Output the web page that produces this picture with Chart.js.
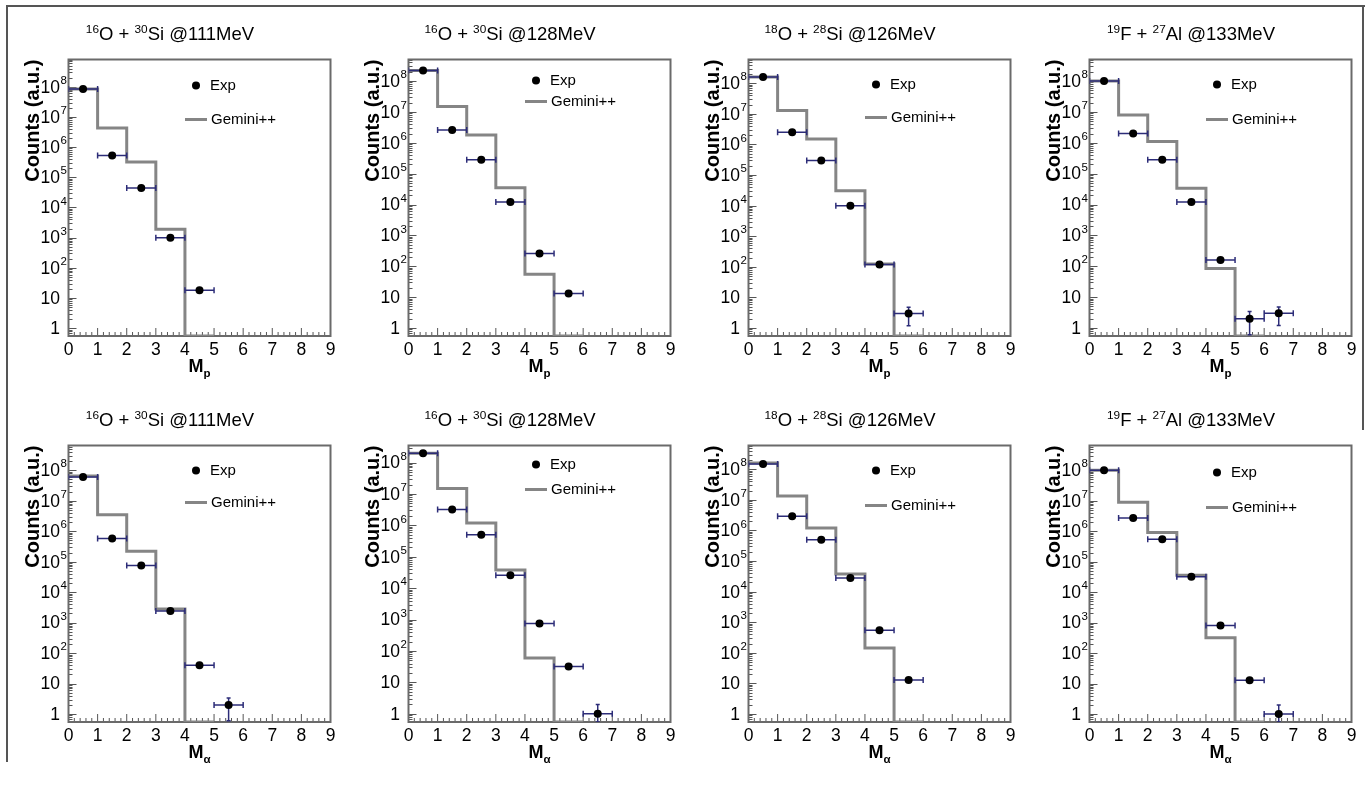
<!DOCTYPE html>
<html lang="en">
<head>
<meta charset="UTF-8">
<title>Mp and Malpha distributions</title>
<script src="https://cdn.jsdelivr.net/npm/chart.js"></script>
<style>
  body { margin: 0; background: #fff; width: 1369px; height: 787px; overflow: hidden; position: relative; }
  .pad { position: absolute; }
  #frameTL { position: absolute; left: 6px; top: 5px; width: 1357px; height: 755px; border-top: 2px solid #555; border-left: 2px solid #555; }
  #frameR { position: absolute; left: 1362px; top: 5px; width: 0; height: 425px; border-right: 2px solid #555; }
</style>
</head>
<body>
<div id="frameTL"></div>
<div id="frameR"></div>
<script>
// reactions (one per column)
const beamSup = ['16', '16', '18', '19'];
const beamEl = ['O', 'O', 'O', 'F'];
const targetSup = ['30', '30', '28', '27'];
const targetEl = ['Si', 'Si', 'Si', 'Al'];
const beamEnergy = ['111MeV', '128MeV', '126MeV', '133MeV'];
// rows: proton multiplicity, alpha multiplicity
const multSub = ['p', 'α'];

// axis ticks
const xTicks = [0, 1, 2, 3, 4, 5, 6, 7, 8, 9];
const yTicks = [1, 10, 1e2, 1e3, 1e4, 1e5, 1e6, 1e7, 1e8];
const yTickBase = ['1', '10', '10', '10', '10', '10', '10', '10', '10'];
const yTickExp = ['', '', '2', '3', '4', '5', '6', '7', '8'];
const yMin = 0.55;
const yMax = [8e8, 5e8, 6e8, 5e8, 6.5e8, 3.5e8, 6e8, 6.5e8];

// bin centres of the experimental points
const binCenters = [0.5, 1.5, 2.5, 3.5, 4.5, 5.5, 6.5];

// Mp, experiment
const expMp = [
  [8.5e7, 5.3e5, 4.4e4, 1.0e3, 18],
  [2.2e8, 2.6e6, 2.8e5, 1.2e4, 2.6e2, 13],
  [1.6e8, 2.5e6, 3.0e5, 1.0e4, 1.2e2, 3],
  [1.0e8, 2.0e6, 2.8e5, 1.2e4, 1.6e2, 2, 3]
];
const expMpErr = [
  [0, 0, 0, 0, 0],
  [0, 0, 0, 0, 0, 0],
  [0, 0, 0, 0, 0, 1.8],
  [0, 0, 0, 0, 0, 1.4, 1.8]
];
// Mp, Gemini++
const gemMp = [
  [8.5e7, 4.3e6, 3.2e5, 1.9e3, 0],
  [2.2e8, 1.5e7, 1.8e6, 3.5e4, 55, 0],
  [1.6e8, 1.3e7, 1.5e6, 3.1e4, 1.25e2, 0],
  [1.0e8, 8.0e6, 1.1e6, 3.4e4, 85, 0]
];

// Malpha, experiment
const expMa = [
  [6.0e7, 5.8e5, 7.5e4, 2.4e3, 40, 2],
  [2.0e8, 3.2e6, 5.0e5, 2.6e4, 7.5e2, 32, 1],
  [1.5e8, 2.9e6, 5.0e5, 2.8e4, 5.5e2, 13],
  [1.0e8, 2.7e6, 5.5e5, 3.2e4, 8.0e2, 13, 1]
];
const expMaErr = [
  [0, 0, 0, 0, 0, 1.4],
  [0, 0, 0, 0, 0, 0, 1],
  [0, 0, 0, 0, 0, 0],
  [0, 0, 0, 0, 0, 0, 1]
];
// Malpha, Gemini++
const gemMa = [
  [6.5e7, 3.5e6, 2.2e5, 2.8e3, 0],
  [2.0e8, 1.5e7, 1.2e6, 3.8e4, 60, 0],
  [1.6e8, 1.35e7, 1.2e6, 3.8e4, 1.45e2, 0],
  [1.0e8, 9.0e6, 9.0e5, 3.6e4, 3.2e2, 0]
];

// legend placement per pad (offset from plot top-left, px)
const legendPos = [
  { exp: 26, gem: 60 }, { exp: 21, gem: 42 }, { exp: 25, gem: 58 }, { exp: 25, gem: 60 },
  { exp: 25, gem: 57 }, { exp: 19, gem: 44 }, { exp: 25, gem: 60 }, { exp: 27, gem: 62 }
];

const FONT = '"Liberation Sans", Arial, Helvetica, sans-serif';
const GREY = '#858585';
const ERRCOL = '#2c2c78';

// draws a list of [text, mode] pieces, mode: 'n' normal, 'sup', 'sub'
function richText(ctx, parts, x, y, size, bold, align) {
  const w = p => {
    const s = p[1] === 'n' ? size : size * 0.64;
    ctx.font = (bold ? 'bold ' : '') + s + 'px ' + FONT;
    return ctx.measureText(p[0]).width;
  };
  const total = parts.reduce((t, p) => t + w(p), 0);
  let cx = align === 'center' ? x - total / 2 : x;
  ctx.textAlign = 'left';
  ctx.textBaseline = 'alphabetic';
  parts.forEach(p => {
    const dw = w(p);
    let dy = 0;
    if (p[1] === 'sup') dy = -size * 0.38;
    if (p[1] === 'sub') dy = size * 0.25;
    ctx.fillText(p[0], cx, y + dy);
    cx += dw;
  });
}

const rootPad = {
  id: 'rootPad',
  beforeDatasetsDraw(chart) {
    const { ctx, chartArea: a, scales: { x, y } } = chart;
    ctx.save();
    // inner tick marks
    ctx.strokeStyle = '#555';
    ctx.lineWidth = 1;
    ctx.beginPath();
    xTicks.forEach((t, i) => {
      const px = x.getPixelForValue(t);
      ctx.moveTo(px, a.bottom);
      ctx.lineTo(px, a.bottom - 8);
      if (i < xTicks.length - 1) {
        for (let k = 1; k < 5; k++) {
          const mx = x.getPixelForValue(t + k * 0.2);
          ctx.moveTo(mx, a.bottom);
          ctx.lineTo(mx, a.bottom - 4);
        }
      }
    });
    for (let e = -1; e <= 9; e++) {
      for (let m = 1; m <= 9; m++) {
        const v = m * Math.pow(10, e);
        if (v < y.min || v > y.max) continue;
        const py = Math.round(y.getPixelForValue(v)) + 0.5;
        ctx.moveTo(a.left, py);
        ctx.lineTo(a.left + (m === 1 ? 8 : 4), py);
      }
    }
    ctx.stroke();
    // frame
    ctx.strokeStyle = '#6a6a6a';
    ctx.lineWidth = 2;
    ctx.strokeRect(a.left, a.top, a.right - a.left, a.bottom - a.top);
    ctx.restore();
  },
  afterDatasetDraw(chart, args, opts) {
    if (args.index !== 0) return;
    const { ctx, chartArea: a, scales: { x, y } } = chart;
    ctx.save();
    ctx.beginPath();
    ctx.rect(a.left, a.top, a.right - a.left, a.bottom - a.top);
    ctx.clip();
    ctx.strokeStyle = ERRCOL;
    ctx.lineWidth = 1.5;
    ctx.beginPath();
    opts.exp.forEach((v, i) => {
      const c = binCenters[i];
      const py = y.getPixelForValue(v);
      const x0 = x.getPixelForValue(c - 0.5), x1 = x.getPixelForValue(c + 0.5);
      ctx.moveTo(x0, py); ctx.lineTo(x1, py);
      ctx.moveTo(x0, py - 3); ctx.lineTo(x0, py + 3);
      ctx.moveTo(x1, py - 3); ctx.lineTo(x1, py + 3);
      const err = opts.err[i];
      if (err > 0) {
        const px = x.getPixelForValue(c);
        const lo = y.getPixelForValue(Math.max(v - err, y.min));
        const hi = y.getPixelForValue(v + err);
        ctx.moveTo(px, lo); ctx.lineTo(px, hi);
        ctx.moveTo(px - 2, hi); ctx.lineTo(px + 2, hi);
        ctx.moveTo(px - 2, lo); ctx.lineTo(px + 2, lo);
      }
    });
    ctx.stroke();
    ctx.restore();
  },
  afterDraw(chart, args, opts) {
    const { ctx, chartArea: a, scales: { y } } = chart;
    ctx.save();
    ctx.fillStyle = '#000';
    // pad title
    richText(ctx, opts.title, chart.width / 2, 40, 18.5, false, 'center');
    // y tick labels: "10" with exponent
    yTicks.forEach((v, i) => {
      if (v < y.min || v > y.max) return;
      const py = y.getPixelForValue(v);
      ctx.font = '17.5px ' + FONT;
      ctx.textAlign = 'right';
      ctx.textBaseline = 'middle';
      ctx.fillText(yTickBase[i], a.left - 8.5, py + 1);
      if (yTickExp[i]) {
        ctx.font = '11.5px ' + FONT;
        ctx.textAlign = 'left';
        ctx.fillText(yTickExp[i], a.left - 8, py - 6);
      }
    });
    // y title
    ctx.save();
    ctx.translate(33, a.top);
    ctx.rotate(-Math.PI / 2);
    ctx.font = 'bold 20px ' + FONT;
    ctx.textAlign = 'right';
    ctx.textBaseline = 'middle';
    ctx.fillText('Counts (a.u.)', 0, 0);
    ctx.restore();
    // x title
    richText(ctx, [['M', 'n'], [opts.sub, 'sub']], (a.left + a.right) / 2, 372, 18, true, 'center');
    // legend
    const lx = a.left + 127.5;
    ctx.beginPath();
    ctx.arc(lx, a.top + opts.leg.exp, 4, 0, Math.PI * 2);
    ctx.fill();
    ctx.font = '15px ' + FONT;
    ctx.textAlign = 'left';
    ctx.textBaseline = 'middle';
    ctx.fillText('Exp', lx + 14, a.top + opts.leg.exp);
    ctx.strokeStyle = GREY;
    ctx.lineWidth = 3;
    ctx.beginPath();
    ctx.moveTo(lx - 11, a.top + opts.leg.gem);
    ctx.lineTo(lx + 11, a.top + opts.leg.gem);
    ctx.stroke();
    ctx.fillText('Gemini++', lx + 15, a.top + opts.leg.gem);
    ctx.restore();
  }
};

const colLeft = [0, 340, 680, 1021];
const rowTop = [0, 386];

for (let r = 0; r < 2; r++) {
  for (let c = 0; c < 4; c++) {
    const p = r * 4 + c;
    const exp = r === 0 ? expMp[c] : expMa[c];
    const err = r === 0 ? expMpErr[c] : expMaErr[c];
    const gem = r === 0 ? gemMp[c] : gemMa[c];

    const canvas = document.createElement('canvas');
    canvas.className = 'pad';
    canvas.width = 340;
    canvas.height = 386;
    canvas.style.left = colLeft[c] + 'px';
    canvas.style.top = rowTop[r] + 'px';
    document.body.appendChild(canvas);

    // histogram outline: one point per bin edge, stepped
    const gemPts = gem.map((v, i) => ({ x: i, y: v > 0 ? v : yMin }));
    gemPts.push({ x: gem.length, y: gem[gem.length - 1] > 0 ? gem[gem.length - 1] : yMin });
    const expPts = exp.map((v, i) => ({ x: binCenters[i], y: v }));

    const title = [[beamSup[c], 'sup'], [beamEl[c] + ' + ', 'n'], [targetSup[c], 'sup'], [targetEl[c] + ' @' + beamEnergy[c], 'n']];

    new Chart(canvas, {
      type: 'line',
      data: {
        datasets: [
          {
            label: 'Gemini++',
            data: gemPts,
            stepped: 'before',
            borderColor: GREY,
            borderWidth: 3,
            pointRadius: 0,
            fill: false,
            order: 1
          },
          {
            label: 'Exp',
            data: expPts,
            showLine: false,
            pointRadius: 4,
            pointBackgroundColor: '#000',
            pointBorderColor: '#000',
            pointBorderWidth: 0,
            order: 0
          }
        ]
      },
      options: {
        responsive: false,
        animation: false,
        events: [],
        layout: { padding: { left: 0, right: 9.5, top: 59.5, bottom: 10 } },
        scales: {
          x: {
            type: 'linear',
            min: 0,
            max: 9,
            afterBuildTicks: s => { s.ticks = xTicks.map(v => ({ value: v })); },
            afterFit: s => { s.height = 40; },
            ticks: { autoSkip: false, maxRotation: 0, padding: 4, color: '#000', font: { family: FONT, size: 17.5 } },
            grid: { display: false, drawTicks: false },
            border: { display: false }
          },
          y: {
            type: 'logarithmic',
            min: yMin,
            max: yMax[p],
            afterFit: s => { s.width = 68.5; },
            ticks: { display: false },
            grid: { display: false, drawTicks: false },
            border: { display: false }
          }
        },
        plugins: {
          legend: { display: false },
          tooltip: { enabled: false },
          rootPad: { title: title, sub: multSub[r], exp: exp, err: err, leg: legendPos[p] }
        }
      },
      plugins: [rootPad]
    });
  }
}
</script>
</body>
</html>
